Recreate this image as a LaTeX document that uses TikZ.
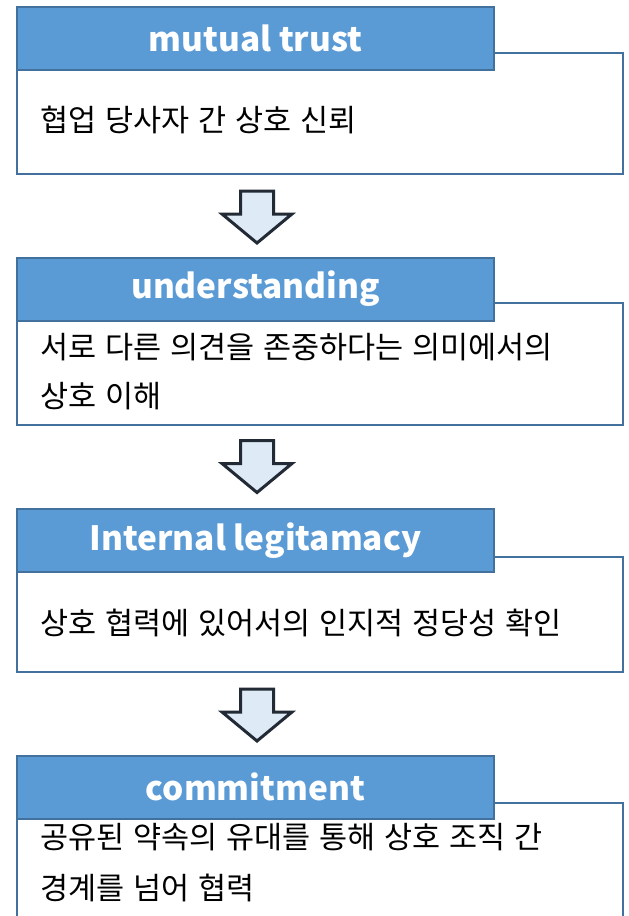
\documentclass[tikz,border=0pt]{standalone}
\usepackage{fontspec}
\setmainfont{Noto Sans CJK KR}
\newfontfamily\kofont[WordSpace=1.3]{Noto Sans CJK KR}
\definecolor{hdrfill}{HTML}{5B9BD5}
\definecolor{hdrline}{HTML}{41719C}
\definecolor{arrfill}{HTML}{DEEBF7}
\definecolor{arrline}{HTML}{222A35}
\tikzset{
  hdr/.style={draw=hdrline, line width=2pt, fill=hdrfill, minimum width=477pt, minimum height=63pt, inner sep=0pt, text=white, font=\fontsize{33.4}{36}\selectfont\bfseries},
  bodybox/.style={draw=hdrline, line width=2pt, fill=white, minimum width=606pt, inner sep=0pt},
  bodytext/.style={anchor=west, align=left, inner sep=0pt, font=\kofont\fontsize{30.5}{49}\selectfont},
  blockarrow/.style={draw=arrline, line width=3pt, fill=arrfill, line join=miter}
}
\newcommand{\downblock}[2]{% #1 = name, #2 = top y
  \coordinate (#1) at (257,#2);
  \draw[blockarrow] ([shift={(-16.5,0)}]#1) -- ([shift={(16.5,0)}]#1) -- ([shift={(16.5,23)}]#1) -- ([shift={(35,23)}]#1) -- ([shift={(0,52)}]#1) -- ([shift={(-35,23)}]#1) -- ([shift={(-16.5,23)}]#1) -- cycle;
}
\begin{document}
\begin{tikzpicture}[x=1pt,y=-1pt]
\useasboundingbox (0,0) rectangle (629,916);
\clip (0,0) rectangle (629,916);
\fill[white] (0,0) rectangle (629,916);
% box 1
\node[bodybox, minimum height=121pt] (b1) at (320,113.5) {};
\node[hdr] (h1) at (255.5,38.5) {mutual trust};
\node[bodytext] (t1) at (40,120) {협업 당사자 간 상호 신뢰};
% box 2
\node[bodybox, minimum height=122pt] (b2) at (320,364) {};
\node[hdr] (h2) at (255.5,289) {understanding};
\node[bodytext] (t2) at (40,371.5) {서로 다른 의견을 존중하다는 의미에서의\\상호 이해};
% box 3
\node[bodybox, minimum height=115pt] (b3) at (320,614.5) {};
\node[hdr] (h3) at (255.5,540.5) {Internal legitamacy};
\node[bodytext] (t3) at (40,623) {상호 협력에 있어서의 인지적 정당성 확인};
% box 4
\node[bodybox, minimum height=140pt] (b4) at (320,873) {};
\node[hdr] (h4) at (255.5,787) {commitment};
\node[bodytext, font=\kofont\fontsize{30.5}{51}\selectfont] (t4) at (40,862.5) {공유된 약속의 유대를 통해 상호 조직 간\\경계를 넘어 협력};
% arrows
\downblock{a1}{191}
\downblock{a2}{440.5}
\downblock{a3}{689}
\end{tikzpicture}
\end{document}
